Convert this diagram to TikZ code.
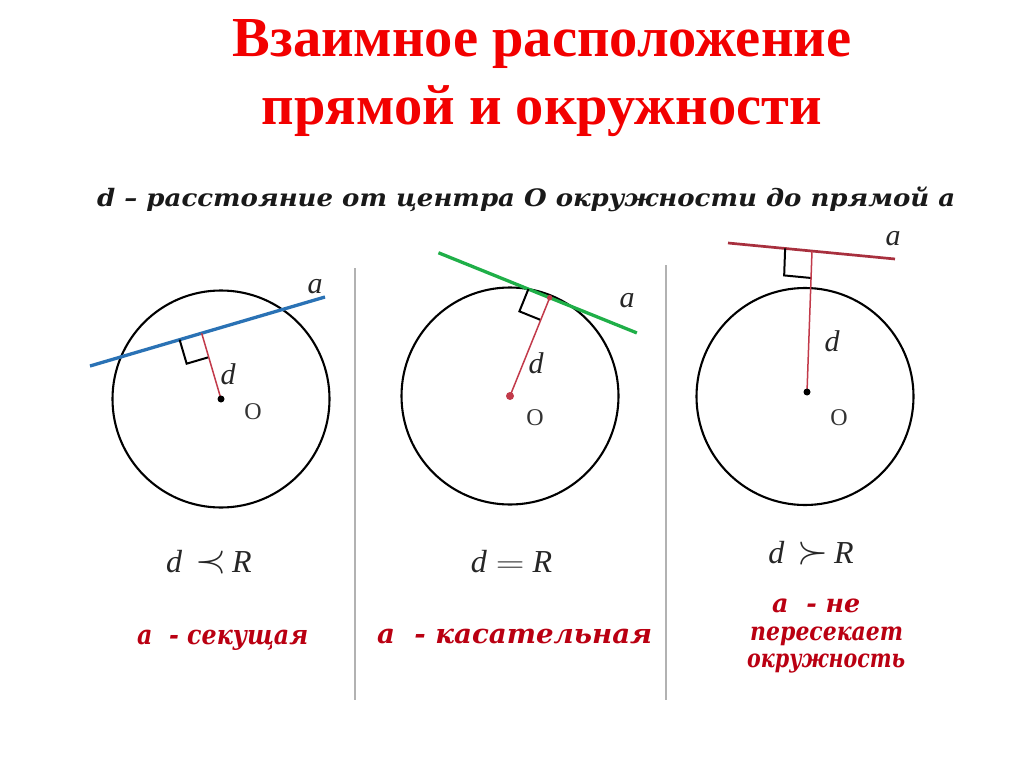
\documentclass[tikz,border=0pt]{standalone}
\usepackage{fontspec}
\usepackage{graphicx}
\usetikzlibrary{calc}
\setmainfont{Liberation Serif}
\newfontfamily\labfont{DejaVu Serif}
\begin{document}
\begin{tikzpicture}[x=1pt,y=-1pt,
  titletxt/.style={font=\fontsize{56.5}{60}\selectfont\bfseries, text=titlered, anchor=base, inner sep=0pt},
  subtxt/.style={font=\labfont\fontsize{24}{26}\selectfont\bfseries\itshape, text=black!90, anchor=base west, inner sep=0pt},
  circ/.style={draw=black, line width=2.1pt},
  sep/.style={draw=black!30, line width=1.3pt},
  dseg/.style={draw=dred, line width=1.5pt},
  rangle/.style={draw=black, line width=2pt, line join=miter},
  lbl/.style={font=\fontsize{30}{32}\selectfont\itshape, text=black!85, inner sep=0pt},
  olbl/.style={font=\fontsize{24}{26}\selectfont, text=black!80, inner sep=0pt},
  rel/.style={font=\fontsize{32}{34}\selectfont\itshape, text=black!85, anchor=base, inner sep=0pt},
  redtxt/.style={font=\labfont\fontsize{27}{30}\selectfont\bfseries\itshape, text=lblred, anchor=base west, inner sep=0pt},
  redtxtb/.style={font=\labfont\fontsize{25.5}{30}\selectfont\bfseries\itshape, text=lblred, anchor=base west, inner sep=0pt},
  dotst/.style={circle, fill=black, inner sep=0pt, minimum size=7pt}]
\definecolor{titlered}{HTML}{F20000}
\definecolor{lblred}{HTML}{BA0012}
\definecolor{dred}{HTML}{C23A4A}
\definecolor{blueline}{HTML}{2A72B5}
\definecolor{greenline}{HTML}{1FAF48}
\definecolor{maroonline}{HTML}{A8303E}
\useasboundingbox[fill=white] (0,0) rectangle (1024,767);
% title
\node[titletxt] (t1) at (542,57) {Взаимное расположение};
\node[titletxt] (t2) at (542,125) {прямой и окружности};
\node[subtxt] (sub) at (97,207) {\resizebox{858pt}{\height}{d – расстояние от центра О окружности до прямой а}};
% separators
\coordinate (s1a) at (355,268); \coordinate (s1b) at (355,700);
\coordinate (s2a) at (666,265); \coordinate (s2b) at (666,700);
\draw[sep] (s1a) -- (s1b);
\draw[sep] (s2a) -- (s2b);
% ---- circle 1 (secant)
\coordinate (c1) at (221,399);
\draw[circ] (c1) circle (108.5);
\coordinate (l1a) at (90,366); \coordinate (l1b) at (325,297);
\coordinate (f1) at ($(l1a)!(c1)!(l1b)$);
\coordinate (q1a) at ($(f1)!23pt!(l1a)$);
\coordinate (q1c) at ($(f1)!25pt!(c1)$);
\coordinate (q1b) at ($(q1a)+(q1c)-(f1)$);
\draw[draw=blueline, line width=3.3pt] (l1a) -- (l1b);
\draw[rangle] (q1a) -- (q1b) -- (q1c);
\draw[dseg] (c1) -- (f1);
\node[dotst] (o1) at (c1) {};
\node[lbl] (a1) at (315,287) {a};
\node[lbl] (d1) at (228,374) {d};
\node[olbl] (O1) at (253,412) {O};
% ---- circle 2 (tangent)
\coordinate (c2) at (510,396);
\draw[circ] (c2) circle (108.5);
\coordinate (f2) at ($(c2)+(-68:106)$);
\coordinate (l2a) at ($(f2)+(202:120)$);
\coordinate (l2b) at ($(f2)+(22:94)$);
\coordinate (q2a) at ($(f2)!23pt!(l2a)$);
\coordinate (q2c) at ($(f2)!24pt!(c2)$);
\coordinate (q2b) at ($(q2a)+(q2c)-(f2)$);
\draw[draw=greenline, line width=3.3pt] (l2a) -- (l2b);
\draw[rangle] (q2a) -- (q2b) -- (q2c);
\draw[dseg] (c2) -- (f2);
\node[circle, fill=dred, inner sep=0pt, minimum size=8pt] (o2) at (c2) {};
\node[circle, fill=dred, inner sep=0pt, minimum size=5.5pt] (t2p) at (f2) {};
\node[lbl] (a2) at (627,301) {a};
\node[lbl] (d2) at (536,363) {d};
\node[olbl] (O2) at (535,418) {O};
% ---- circle 3 (no intersection)
\coordinate (c3) at (805,396.5);
\draw[circ] (c3) circle (108.5);
\coordinate (dot3) at (807,392);
\coordinate (l3a) at (728,243); \coordinate (l3b) at (895,259);
\coordinate (f3) at (812,251);
\coordinate (q3a) at ($(f3)!27pt!(l3a)$);
\coordinate (q3c) at ($(f3)!27pt!(dot3)$);
\coordinate (q3b) at ($(q3a)+(q3c)-(f3)$);
\draw[draw=maroonline, line width=2.7pt] (l3a) -- (l3b);
\draw[rangle] (q3a) -- (q3b) -- (q3c);
\draw[dseg] (dot3) -- (f3);
\node[dotst] (o3) at (dot3) {};
\node[lbl] (a3) at (893,239) {a};
\node[lbl] (d3) at (832,341) {d};
\node[olbl] (O3) at (839,418) {O};
% relations
\node[rel] (r1) at (209,572) {d\hspace{13pt}\scalebox{1.6}{$\prec$}\hspace{6pt}R};
\node[rel] (r2) at (511.5,572) {d\hspace{9pt}\scalebox{1.6}[1.2]{$=$}\hspace{8pt}R};
\node[rel] (r3) at (811,563) {d\hspace{13pt}\scalebox{1.6}{$\succ$}\hspace{6pt}R};
% red labels
\node[redtxt] (e1) at (137,644) {\resizebox{171pt}{\height}{а \ - секущая}};
\node[redtxt] (e2) at (377,643) {\resizebox{275pt}{\height}{а \ - касательная}};
\node[redtxtb] (e3a) at (772,612) {\resizebox{88pt}{\height}{а \ - не}};
\node[redtxtb] (e3b) at (750,640) {\resizebox{153pt}{\height}{пересекает}};
\node[redtxtb] (e3c) at (747,667) {\resizebox{158pt}{\height}{окружность}};
\end{tikzpicture}
\end{document}
